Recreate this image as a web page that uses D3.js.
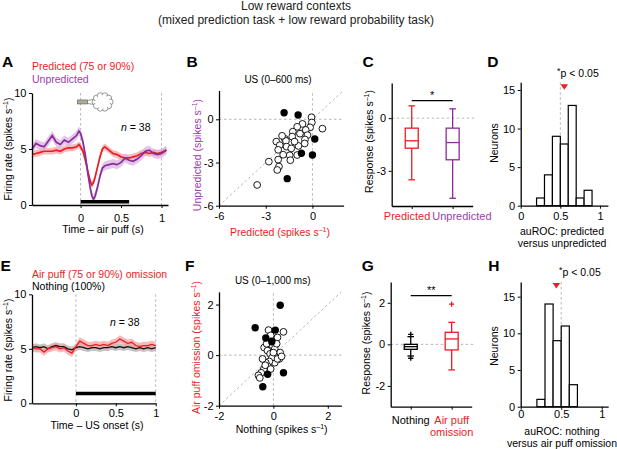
<!DOCTYPE html>
<html>
<head>
<meta charset="utf-8">
<script src="https://cdn.jsdelivr.net/npm/d3@7"></script>
<style>
  body { margin: 0; background: #fff; }
  svg { font-family: "Liberation Sans", Arial, sans-serif; }
</style>
</head>
<body>
<svg id="fig" width="617" height="449"></svg>
<script>
const titleLines = ["Low reward contexts", "(mixed prediction task + low reward probability task)"];

// A: firing rate aligned on air puff
const timeA = [-0.6,-0.55,-0.5,-0.45,-0.4,-0.35,-0.3,-0.25,-0.2,-0.15,-0.1,-0.05,-0.02,0,0.03,0.06,0.09,0.12,0.14,0.16,0.18,0.21,0.24,0.27,0.3,0.35,0.4,0.45,0.5,0.55,0.6,0.65,0.7,0.75,0.8,0.85,0.9,0.95,1.0,1.06];
const predictedA = [4.5,4.6,4.7,4.8,4.8,4.8,4.9,4.8,5.0,5.1,5.1,5.2,5.4,5.2,4.8,4.0,3.0,2.1,1.8,2.0,2.5,3.4,4.3,5.0,5.2,4.9,4.6,4.5,4.3,4.2,4.2,4.3,4.4,4.6,4.7,4.6,4.7,4.6,4.7,4.9];
const unpredictedA = [5.0,5.5,5.3,5.2,5.7,6.2,5.6,5.4,5.8,5.6,5.9,6.2,6.6,6.4,5.6,4.4,2.8,1.5,0.8,0.5,0.8,1.6,2.6,3.3,3.5,3.6,3.7,3.6,3.8,4.2,4.0,3.9,4.1,4.4,4.8,4.9,4.6,4.5,4.6,4.9];
const predictedSemA = 0.3;
const unpredictedSemA = 0.4;
const windowA = [0, 0.6];

// E: firing rate aligned on US onset
const timeE = [-0.55,-0.5,-0.45,-0.4,-0.35,-0.3,-0.25,-0.2,-0.15,-0.1,-0.05,0,0.05,0.1,0.15,0.2,0.25,0.3,0.35,0.4,0.45,0.5,0.55,0.6,0.65,0.7,0.75,0.8,0.85,0.9,0.95,1.0];
const omissionE = [5.1,5.0,5.0,4.7,5.0,5.1,5.2,5.0,5.1,4.8,4.6,5.2,5.7,5.5,5.3,5.3,5.4,5.3,5.4,5.3,5.5,5.6,5.9,5.7,5.5,5.6,5.3,5.2,5.3,5.3,5.4,5.3];
const nothingE = [5.1,5.2,5.1,5.2,5.0,5.2,5.3,5.2,5.2,5.0,4.9,5.1,5.2,5.1,5.0,5.1,5.1,5.0,5.1,5.1,5.2,5.1,5.2,5.1,5.2,5.1,5.0,5.1,5.0,5.1,5.0,5.1];
const omissionSemE = 0.35;
const nothingSemE = 0.3;
const windowE = [0, 1];
const nNeurons = 38;

// B: predicted vs unpredicted response (x, y)
const openB = [[-0.06,0.14],[-0.04,-0.22],[-0.15,-0.56],[0.64,-0.65],[-0.64,-0.32],[-0.43,-0.74],[-0.98,-0.52],[-1.26,-0.86],[-0.8,-1.0],[-0.32,-1.1],[-1.3,-1.2],[-0.48,-1.4],[-1.78,-1.35],[-2.32,-1.55],[-2.1,-1.8],[-2.2,-2.12],[-1.7,-1.5],[-1.66,-1.9],[-1.36,-2.02],[-0.98,-2.48],[-1.46,-2.5],[-1.42,-2.84],[-1.88,-2.46],[-2.2,-2.8],[-2.15,-3.28],[-2.26,-3.52],[-2.8,-2.94],[-3.55,-4.56],[-0.5,-1.68],[-1.95,-1.15],[-0.9,-1.85],[-1.15,-1.55]];
const filledB = [[-1.82,0.46],[-0.92,0.3],[0.15,-1.37],[-0.71,-2.36],[0.0,-2.48],[-1.62,-4.12]];

// F: nothing vs air puff omission response (x, y)
const openF = [[-0.18,0.99],[0.37,0.92],[0.15,0.7],[-0.1,0.78],[-0.34,0.3],[-0.22,0.18],[-0.05,0.4],[0.05,0.25],[-0.12,0.05],[0.1,-0.05],[0.25,0.1],[0.22,-0.15],[0.05,-0.3],[-0.05,-0.1],[-0.15,-0.25],[-0.28,-0.3],[-0.2,-0.45],[-0.35,-0.55],[-0.45,-0.7],[-0.55,-0.8],[-0.5,-0.9],[0.15,-0.15],[-0.08,0.55],[0.0,0.1],[-0.3,-0.4],[0.3,-0.05],[-0.25,0.45],[0.12,0.45],[-0.4,-0.15],[-0.1,-0.55]];
const filledF = [[0.25,1.97],[-0.67,1.08],[0.07,0.99],[-0.28,0.68],[-0.06,0.53],[0.37,-0.7],[-0.21,-0.76],[-0.39,-1.25]];

// C, G: box summaries [low whisker, q1, median, q3, high whisker]
const categoriesC = ["Predicted", "Unpredicted"];
const predictedSummary = [-3.51, -1.71, -1.29, -0.57, 0.70];
const unpredictedSummary = [-4.56, -2.37, -1.39, -0.57, 0.53];
const categoriesG = ["Nothing", "Air puff omission"];
const nothingSummary = [-0.56, -0.24, -0.11, 0.0, 0.37];
const nothingOutliers = [0.48, -0.67];
const omissionSummary = [-1.23, -0.27, 0.26, 0.58, 1.06];
const omissionOutliers = [1.94];

// D, H: auROC histograms (bin lower edges, counts)
const binWidth = 0.1;
const binsD = [0.2, 0.3, 0.4, 0.5, 0.6, 0.7, 0.8];
const countsD = [1, 4, 9, 8, 13, 1, 2];
const medianD = 0.55;
const binsH = [0.2, 0.3, 0.4, 0.5, 0.6];
const countsH = [1, 14, 9, 11, 3];
const medianH = 0.44;

const RED = "#ec1c24";
const PURPLE = "#8a2c98";
const PURPLE_TXT = "#9b3cab";
const GUIDE = "#b8b8b8";

const svg = d3.select("#fig");

svg.append("g").selectAll("text").data(titleLines).join("text")
  .attr("x", 296).attr("y", (d, i) => 10 + i * 14)
  .attr("text-anchor", "middle").attr("font-size", 12).attr("fill", "#222")
  .text(d => d);

function letter(t, x, y) {
  svg.append("text").attr("x", x).attr("y", y).attr("font-size", 15.5)
    .attr("font-weight", "bold").text(t);
}

// text with a superscript "-1" unit
function unitText(sel, before, after) {
  sel.append("tspan").text(before);
  sel.append("tspan").attr("dy", -4).attr("font-size", 7).text("\u20131");
  sel.append("tspan").attr("dy", 4).text(after);
}

function yLabel(before, after, x, yc, color) {
  const t = svg.append("text").attr("transform", `translate(${x},${yc}) rotate(-90)`)
    .attr("text-anchor", "middle").attr("font-size", 10.5).attr("fill", color || "#000");
  if (after === null) t.text(before); else unitText(t, before, after);
}

function xLabel(before, after, xc, y, color) {
  const t = svg.append("text").attr("x", xc).attr("y", y)
    .attr("text-anchor", "middle").attr("font-size", 10.5).attr("fill", color || "#000");
  if (after === null) t.text(before); else unitText(t, before, after);
}

function drawAxes(x, y, o) {
  const xa = d3.axisBottom(x).tickSize(3).tickSizeOuter(0).tickPadding(o.xPad);
  if (o.xTicks) xa.tickValues(o.xTicks).tickFormat(d => String(d));
  const gx = svg.append("g").attr("transform", `translate(0,${y.range()[0]})`).call(xa);
  const gy = svg.append("g").attr("transform", `translate(${x.range()[0]},0)`)
    .call(d3.axisLeft(y).tickValues(o.yTicks).tickFormat(d => String(d))
      .tickSize(3).tickSizeOuter(0).tickPadding(2.5));
  [gx, gy].forEach(g => {
    g.attr("font-family", null).attr("font-size", 11);
    g.select(".domain").attr("stroke", "#000").attr("stroke-width", 1.3);
    g.selectAll(".tick line").attr("stroke", "#000").attr("stroke-width", 1);
    g.selectAll(".tick text").attr("fill", "#000");
  });
  return gx;
}

function vGuide(x, y, v) {
  svg.append("line").attr("x1", x(v)).attr("x2", x(v))
    .attr("y1", y.range()[1]).attr("y2", y.range()[0])
    .attr("stroke", GUIDE).attr("stroke-width", 1).attr("stroke-dasharray", "2.5,2.5");
}

function nLabel(x, y) {
  const t = svg.append("text").attr("x", x).attr("y", y).attr("font-size", 10.5);
  t.append("tspan").attr("font-style", "italic").text("n");
  t.append("tspan").text(` = ${nNeurons}`);
}

// ---- time course panels ----
function tracePanel(o) {
  const x = d3.scaleLinear().domain(o.xDomain).range(o.xRange);
  const y = d3.scaleLinear().domain([0, 10]).range(o.yRange);
  vGuide(x, y, 0);
  vGuide(x, y, 1);
  o.series.forEach(s => {
    const area = d3.area().x((d, i) => x(o.time[i]))
      .y0(d => y(d - s.sem)).y1(d => y(d + s.sem));
    svg.append("path").datum(s.values).attr("d", area)
      .attr("fill", s.band).attr("opacity", 0.75);
  });
  o.series.forEach(s => {
    const line = d3.line().x((d, i) => x(o.time[i])).y(d => y(d));
    svg.append("path").datum(s.values).attr("d", line)
      .attr("fill", "none").attr("stroke", s.color).attr("stroke-width", s.width);
  });
  drawAxes(x, y, { xTicks: [0, 0.5, 1], yTicks: [0, 5, 10], xPad: o.xPad });
  svg.append("line").attr("x1", x(o.window[0])).attr("x2", x(o.window[1]))
    .attr("y1", y(o.barLevel)).attr("y2", y(o.barLevel))
    .attr("stroke", "#000").attr("stroke-width", 3.5);
  o.legend.forEach((l, i) => {
    svg.append("text").attr("x", o.xRange[0]).attr("y", o.legendY[i])
      .attr("font-size", 10.5).attr("fill", l.color).text(l.text);
  });
  return { x, y };
}

const A = tracePanel({
  time: timeA, xDomain: [-0.6, 1.08], xRange: [32, 168], yRange: [205, 93], xPad: 6,
  series: [
    { values: predictedA, sem: predictedSemA, color: RED, band: "#f6a3a3", width: 1.7 },
    { values: unpredictedA, sem: unpredictedSemA, color: PURPLE, band: "#dab3e2", width: 1.7 }
  ],
  window: windowA, barLevel: 0.3,
  legend: [{ text: "Predicted (75 or 90%)", color: RED }, { text: "Unpredicted", color: PURPLE_TXT }],
  legendY: [69.5, 82.5]
});
yLabel("Firing rate (spikes s", ")", 12, 149);
xLabel("Time \u2013 air puff (s)", null, 103, 233);
nLabel(121, 130.5);

// air puff icon above time zero
(function () {
  const g = svg.append("g").attr("transform", `translate(${A.x(0)},${A.y(9.2)})`);
  g.append("rect").attr("x", -3).attr("y", -2).attr("width", 10).attr("height", 4)
    .attr("fill", "#b3ab92").attr("stroke", "#555").attr("stroke-width", 0.6);
  g.append("path").attr("d", "M7,-1.5 L13,-2.5 M7,1.5 L13,2.5")
    .attr("stroke", "#555").attr("stroke-width", 0.6).attr("fill", "none");
  const bumps = [];
  for (let k = 0; k < 10; k++) {
    const a = Math.PI + (k / 10) * 2 * Math.PI;
    bumps.push([22 + 7.5 * Math.cos(a), 6.5 * Math.sin(a)]);
  }
  g.selectAll(".b").data(bumps).join("circle").attr("cx", d => d[0]).attr("cy", d => d[1])
    .attr("r", 3).attr("fill", "#fff").attr("stroke", "#555").attr("stroke-width", 0.6);
  g.append("ellipse").attr("cx", 22).attr("cy", 0).attr("rx", 7.6).attr("ry", 6.6).attr("fill", "#fff");
})();

tracePanel({
  time: timeE, xDomain: [-0.55, 1.0], xRange: [32, 155.7], yRange: [403.3, 294.3], xPad: 2.6,
  series: [
    { values: nothingE, sem: nothingSemE, color: "#111", band: "#b0b0b0", width: 1.3 },
    { values: omissionE, sem: omissionSemE, color: RED, band: "#f6a3a3", width: 1.3 }
  ],
  window: windowE, barLevel: 0.9,
  legend: [{ text: "Air puff (75 or 90%) omission", color: RED }, { text: "Nothing (100%)", color: "#000" }],
  legendY: [278, 290]
});
yLabel("Firing rate (spikes s", ")", 12, 350);
xLabel("Time \u2013 US onset (s)", null, 97, 428.5);
nLabel(110, 326);

// ---- scatter panels ----
function scatterPanel(o) {
  const x = d3.scaleLinear().domain(o.domain).range(o.xRange);
  const y = d3.scaleLinear().domain(o.domain).range(o.yRange);
  const [lo, hi] = o.domain;
  const g = svg.append("g").attr("stroke", GUIDE).attr("stroke-width", 1)
    .attr("stroke-dasharray", "2.5,2.5");
  g.append("line").attr("x1", x(lo)).attr("x2", x(hi)).attr("y1", y(0)).attr("y2", y(0));
  g.append("line").attr("x1", x(0)).attr("x2", x(0)).attr("y1", y(lo)).attr("y2", y(hi));
  g.append("line").attr("x1", x(lo)).attr("x2", x(hi)).attr("y1", y(lo)).attr("y2", y(hi));
  drawAxes(x, y, { xTicks: o.ticks, yTicks: o.ticks, xPad: o.xPad });
  svg.append("g").selectAll("circle").data(o.open).join("circle")
    .attr("cx", d => x(d[0])).attr("cy", d => y(d[1])).attr("r", 3.4)
    .attr("fill", "#fff").attr("stroke", "#000").attr("stroke-width", 0.9);
  svg.append("g").selectAll("circle").data(o.filled).join("circle")
    .attr("cx", d => x(d[0])).attr("cy", d => y(d[1])).attr("r", 3.7)
    .attr("fill", "#000");
  svg.append("text").attr("x", o.titleX).attr("y", o.titleY).attr("text-anchor", "middle")
    .attr("font-size", 10).text(o.title);
}

scatterPanel({
  domain: [-6, 2], xRange: [219, 343.6], yRange: [205.7, 90.5], ticks: [-6, -3, 0], xPad: 3.2,
  open: openB, filled: filledB, title: "US (0\u2013600 ms)", titleX: 278, titleY: 83
});
yLabel("Unpredicted (spikes s", ")", 200.5, 155, PURPLE_TXT);
xLabel("Predicted (spikes s", ")", 280, 236, RED);

scatterPanel({
  domain: [-2, 2.5], xRange: [219, 341.4], yRange: [405.7, 291.9], ticks: [-2, 0, 2], xPad: 3.2,
  open: openF, filled: filledF, title: "US (0\u20131,000 ms)", titleX: 272.7, titleY: 284
});
yLabel("Air puff omission (spikes s", ")", 200, 347.5, RED);
xLabel("Nothing (spikes s", ")", 281.7, 433);

// ---- box plot panels ----
function boxPanel(o) {
  const x = d3.scalePoint().domain(o.categories).range(o.xRange).padding(0.49);
  const y = d3.scaleLinear().domain(o.yDomain).range(o.yRange);
  svg.append("line").attr("x1", o.xRange[0]).attr("x2", o.xRange[1] + 4)
    .attr("y1", y(0)).attr("y2", y(0))
    .attr("stroke", GUIDE).attr("stroke-width", 1).attr("stroke-dasharray", "2.5,2.5");
  const gx = drawAxes(x, y, { yTicks: o.yTicks, xPad: 2 });
  gx.selectAll(".tick text").remove();
  o.boxes.forEach((b, i) => {
    const cx = x(o.categories[i]), w = 13, cap = 3.3, s = b.summary;
    const g = svg.append("g").attr("stroke", b.color).attr("stroke-width", 1.3).attr("fill", "none");
    g.append("line").attr("x1", cx).attr("x2", cx).attr("y1", y(s[0])).attr("y2", y(s[1]));
    g.append("line").attr("x1", cx).attr("x2", cx).attr("y1", y(s[3])).attr("y2", y(s[4]));
    [s[0], s[4]].forEach(v => g.append("line").attr("x1", cx - cap).attr("x2", cx + cap)
      .attr("y1", y(v)).attr("y2", y(v)));
    g.append("rect").attr("x", cx - w / 2).attr("y", y(s[3]))
      .attr("width", w).attr("height", y(s[1]) - y(s[3])).attr("fill", "#fff");
    g.append("line").attr("x1", cx - w / 2).attr("x2", cx + w / 2)
      .attr("y1", y(s[2])).attr("y2", y(s[2]));
    (b.outliers || []).forEach(v => g.append("path")
      .attr("d", `M${cx - 2.6},${y(v)}H${cx + 2.6}M${cx},${y(v) - 2.6}V${y(v) + 2.6}`));
    b.label.forEach((line, k) => {
      svg.append("text").attr("x", cx + b.labelDx).attr("y", o.labelY + k * 12.5)
        .attr("text-anchor", "middle").attr("font-size", 11).attr("fill", b.textColor)
        .text(line);
    });
  });
  const c0 = x(o.categories[0]), c1 = x(o.categories[1]);
  svg.append("line").attr("x1", c0).attr("x2", c1).attr("y1", o.sigY).attr("y2", o.sigY)
    .attr("stroke", "#000").attr("stroke-width", 1.2);
  svg.append("text").attr("x", (c0 + c1) / 2).attr("y", o.sigY - 1.5)
    .attr("text-anchor", "middle").attr("font-size", 11).text(o.sig);
}

boxPanel({
  categories: categoriesC, xRange: [391.7, 472.7], yDomain: [-5, 2], yRange: [206, 83],
  yTicks: [-3, 0], labelY: 220, sigY: 100.7, sig: "*",
  boxes: [
    { summary: predictedSummary, color: RED, textColor: RED, label: ["Predicted"], labelDx: -4.7 },
    { summary: unpredictedSummary, color: PURPLE, textColor: PURPLE_TXT, label: ["Unpredicted"], labelDx: 9.3 }
  ]
});
yLabel("Response (spikes s", ")", 373, 141.5);

boxPanel({
  categories: categoriesG, xRange: [390.7, 471.7], yDomain: [-3, 3], yRange: [406.7, 282],
  yTicks: [-2, 0, 2], labelY: 423.5, sigY: 295.7, sig: "**",
  boxes: [
    { summary: nothingSummary, outliers: nothingOutliers, color: "#000", textColor: "#000", label: ["Nothing"], labelDx: 0 },
    { summary: omissionSummary, outliers: omissionOutliers, color: RED, textColor: RED, label: ["Air puff", "omission"], labelDx: 0 }
  ]
});
yLabel("Response (spikes s", ")", 370, 343);

// ---- histogram panels ----
function histPanel(o) {
  const x = d3.scaleLinear().domain(o.xDomain).range(o.xRange);
  const y = d3.scaleLinear().domain(o.yDomain).range(o.yRange);
  vGuide(x, y, 0.5);
  svg.append("g").selectAll("rect").data(o.bins).join("rect")
    .attr("x", d => x(d)).attr("width", x(binWidth) - x(0))
    .attr("y", (d, i) => y(o.counts[i])).attr("height", (d, i) => y(0) - y(o.counts[i]))
    .attr("fill", "#fff").attr("stroke", "#000").attr("stroke-width", 1.2);
  drawAxes(x, y, { xTicks: [0, 0.5, 1], yTicks: [0, 5, 10, 15], xPad: o.xPad });
  const mx = x(o.median), my = o.yRange[1] + o.markerDy;
  svg.append("path").attr("d", `M${mx - 3.8},${my}L${mx + 3.8},${my}L${mx},${my + 5.5}Z`)
    .attr("fill", RED);
  const t = svg.append("text").attr("x", o.pX).attr("y", o.pY).attr("font-size", 10.5);
  t.append("tspan").attr("dy", -3).attr("font-size", 9).text("*");
  t.append("tspan").attr("dy", 3).text("p < 0.05");
  o.label.forEach((line, k) => {
    svg.append("text").attr("x", 562).attr("y", o.labelY + k * 12)
      .attr("text-anchor", "middle").attr("font-size", 10.5).text(line);
  });
  yLabel("Neurons", null, 498, o.neuronsY);
}

histPanel({
  bins: binsD, counts: countsD, median: medianD, xDomain: [0, 1.1], xRange: [520.7, 607.9],
  yDomain: [0, 16], yRange: [205.7, 82.3], xPad: 3.5, markerDy: 2, pX: 557, pY: 76.5,
  label: ["auROC: predicted", "versus unpredicted"], labelY: 234.5, neuronsY: 143
});

histPanel({
  bins: binsH, counts: countsH, median: medianH, xDomain: [0, 1.08], xRange: [520.7, 608.2],
  yDomain: [0, 17], yRange: [406.7, 282], xPad: 1, markerDy: 1, pX: 559, pY: 275.5,
  label: ["auROC: nothing", "versus air puff omission"], labelY: 435, neuronsY: 346
});

letter("A", 2, 66.7);
letter("B", 186.5, 66.7);
letter("C", 362.5, 67);
letter("D", 487.3, 67);
letter("E", 0.5, 270.7);
letter("F", 185, 270.7);
letter("G", 361.7, 270.7);
letter("H", 488.3, 270.7);
</script>
</body>
</html>
